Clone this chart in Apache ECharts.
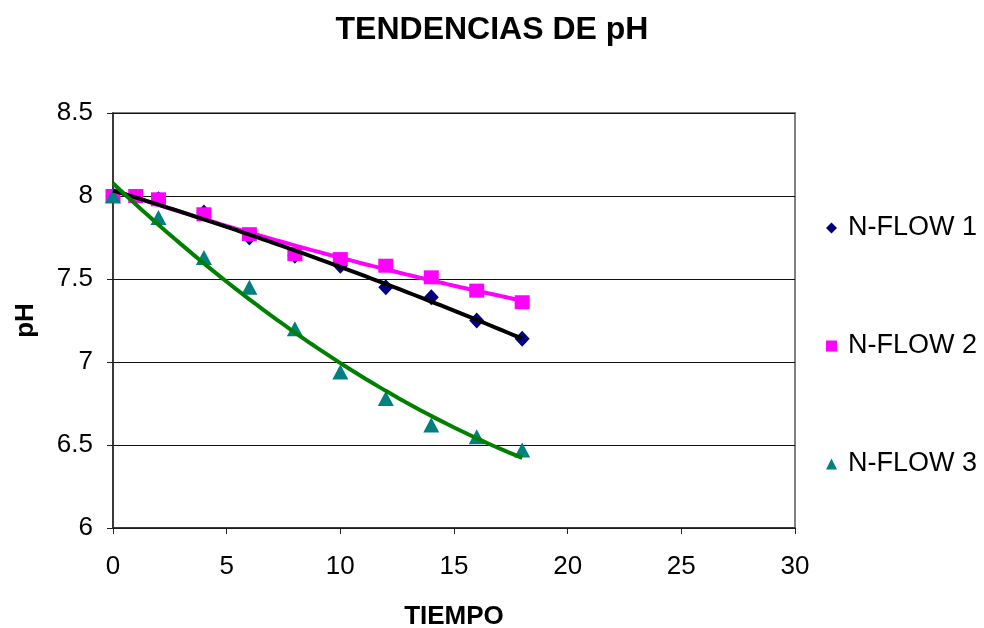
<!DOCTYPE html>
<html>
<head>
<meta charset="utf-8">
<script src="https://cdn.jsdelivr.net/npm/echarts@6/dist/echarts.min.js"></script>
<style>
  html, body { margin: 0; padding: 0; background: #ffffff; }
  #chart { width: 984px; height: 628px; }
</style>
</head>
<body>
<div id="chart"></div>
<script>
// Sampling times and pH readings for each unit
const flow1Time = [0, 2, 4, 6, 8, 10, 12, 14, 16, 18];
const flow1PH   = [8.00, 7.98, 7.90, 7.75, 7.64, 7.58, 7.45, 7.39, 7.25, 7.14];

const flow2Time = [0, 1, 2, 4, 6, 8, 10, 12, 14, 16, 18];
const flow2PH   = [8.00, 8.00, 7.98, 7.89, 7.77, 7.65, 7.62, 7.58, 7.51, 7.43, 7.36];

const flow3Time = [0, 2, 4, 6, 8, 10, 12, 14, 16, 18];
const flow3PH   = [8.00, 7.87, 7.63, 7.45, 7.20, 6.94, 6.78, 6.62, 6.55, 6.47];

const seriesNames = ['N-FLOW 1', 'N-FLOW 2', 'N-FLOW 3'];
const xTicks = [0, 5, 10, 15, 20, 25, 30];
const yTicks = [6, 6.5, 7, 7.5, 8, 8.5];

const FONT = "'Liberation Sans', Arial, sans-serif";

// Second-order least-squares trend line through a set of readings
function quadFit(xs, ys) {
  const n = xs.length;
  let s = [0, 0, 0, 0, 0], t = [0, 0, 0];
  for (let i = 0; i < n; i++) {
    const x = xs[i], y = ys[i];
    let p = 1;
    for (let k = 0; k < 5; k++) { s[k] += p; if (k < 3) t[k] += p * y; p *= x; }
  }
  // Solve normal equations (3x3) with Cramer's rule
  const M = [[s[0], s[1], s[2]], [s[1], s[2], s[3]], [s[2], s[3], s[4]]];
  const det = m => m[0][0]*(m[1][1]*m[2][2]-m[1][2]*m[2][1])
                 - m[0][1]*(m[1][0]*m[2][2]-m[1][2]*m[2][0])
                 + m[0][2]*(m[1][0]*m[2][1]-m[1][1]*m[2][0]);
  const D = det(M);
  return [0, 1, 2].map(c => {
    const Mc = M.map((row, r) => row.map((v, j) => j === c ? t[r] : v));
    return det(Mc) / D;
  });
}

function trendPoints(xs, ys) {
  const [a, b, c] = quadFit(xs, ys);
  const x0 = Math.min(...xs), x1 = Math.max(...xs);
  const pts = [];
  const steps = 60;
  for (let i = 0; i <= steps; i++) {
    const x = x0 + (x1 - x0) * i / steps;
    pts.push([x, a + b * x + c * x * x]);
  }
  return pts;
}

const zip = (xs, ys) => xs.map((x, i) => [x, ys[i]]);

const chart = echarts.init(document.getElementById('chart'), null, { renderer: 'canvas' });

const trendBase = {
  type: 'line',
  showSymbol: false,
  symbol: 'none',
  silent: true,
  smooth: false,
  z: 5
};

chart.setOption({
  animation: false,
  backgroundColor: '#ffffff',
  title: {
    text: 'TENDENCIAS DE pH',
    left: 'center',
    top: 9,
    textStyle: { fontFamily: FONT, fontSize: 32, fontWeight: 'bold', color: '#000' }
  },
  legend: {
    orient: 'vertical',
    left: 826,
    top: 213,
    padding: 0,
    itemWidth: 11,
    itemHeight: 11,
    itemGap: 88,
    data: [
      { name: seriesNames[0], icon: 'diamond' },
      { name: seriesNames[1], icon: 'rect' },
      { name: seriesNames[2], icon: 'triangle' }
    ],
    textStyle: { fontFamily: FONT, fontSize: 27, color: '#000', lineHeight: 30, padding: [0, 0, 0, 6] }
  },
  grid: {
    left: 113, top: 113, width: 682, height: 415,
    outerBoundsMode: 'none',
    containLabel: false,
    show: true,
    borderColor: '#808080',
    borderWidth: 2,
    backgroundColor: '#ffffff'
  },
  xAxis: {
    type: 'value',
    min: xTicks[0],
    max: xTicks[xTicks.length - 1],
    interval: xTicks[1] - xTicks[0],
    name: 'TIEMPO',
    nameLocation: 'middle',
    nameGap: 76,
    nameTextStyle: { fontFamily: FONT, fontSize: 26, fontWeight: 'bold', color: '#000' },
    axisLine: { lineStyle: { color: '#222', width: 1.5 } },
    axisTick: { show: true, inside: false, length: 6, lineStyle: { color: '#222' } },
    axisLabel: { fontFamily: FONT, fontSize: 26, color: '#000', margin: 26 },
    splitLine: { show: false }
  },
  yAxis: {
    type: 'value',
    min: yTicks[0],
    max: yTicks[yTicks.length - 1],
    interval: yTicks[1] - yTicks[0],
    name: 'pH',
    nameLocation: 'middle',
    nameGap: 74,
    nameRotate: 90,
    nameTextStyle: { fontFamily: FONT, fontSize: 26, fontWeight: 'bold', color: '#000' },
    axisLine: { show: true, lineStyle: { color: '#222', width: 1.5 } },
    axisTick: { show: true, inside: false, length: 6, lineStyle: { color: '#222' } },
    axisLabel: { fontFamily: FONT, fontSize: 26, color: '#000', margin: 20 },
    splitLine: { show: true, lineStyle: { color: '#111', width: 1 } }
  },
  series: [
    {
      name: seriesNames[0], type: 'scatter', symbol: 'diamond', symbolSize: [15, 16],
      itemStyle: { color: '#000080', opacity: 1 }, data: zip(flow1Time, flow1PH), z: 2
    },
    {
      name: seriesNames[1], type: 'scatter', symbol: 'rect', symbolSize: [15, 14],
      itemStyle: { color: '#ff00ff', opacity: 1 }, data: zip(flow2Time, flow2PH), z: 3
    },
    {
      name: seriesNames[2], type: 'scatter', symbol: 'triangle', symbolSize: [16, 15],
      itemStyle: { color: '#008080', opacity: 1 }, data: zip(flow3Time, flow3PH), z: 4
    },
    Object.assign({}, trendBase, {
      name: 'trend2', data: trendPoints(flow2Time, flow2PH),
      lineStyle: { color: '#ff00ff', width: 4 }, itemStyle: { color: '#ff00ff' }
    }),
    Object.assign({}, trendBase, {
      name: 'trend1', data: trendPoints(flow1Time, flow1PH),
      lineStyle: { color: '#000000', width: 4 }, itemStyle: { color: '#000000' }
    }),
    Object.assign({}, trendBase, {
      name: 'trend3', data: trendPoints(flow3Time, flow3PH),
      lineStyle: { color: '#008000', width: 4 }, itemStyle: { color: '#008000' }
    })
  ]
});
</script>
</body>
</html>
